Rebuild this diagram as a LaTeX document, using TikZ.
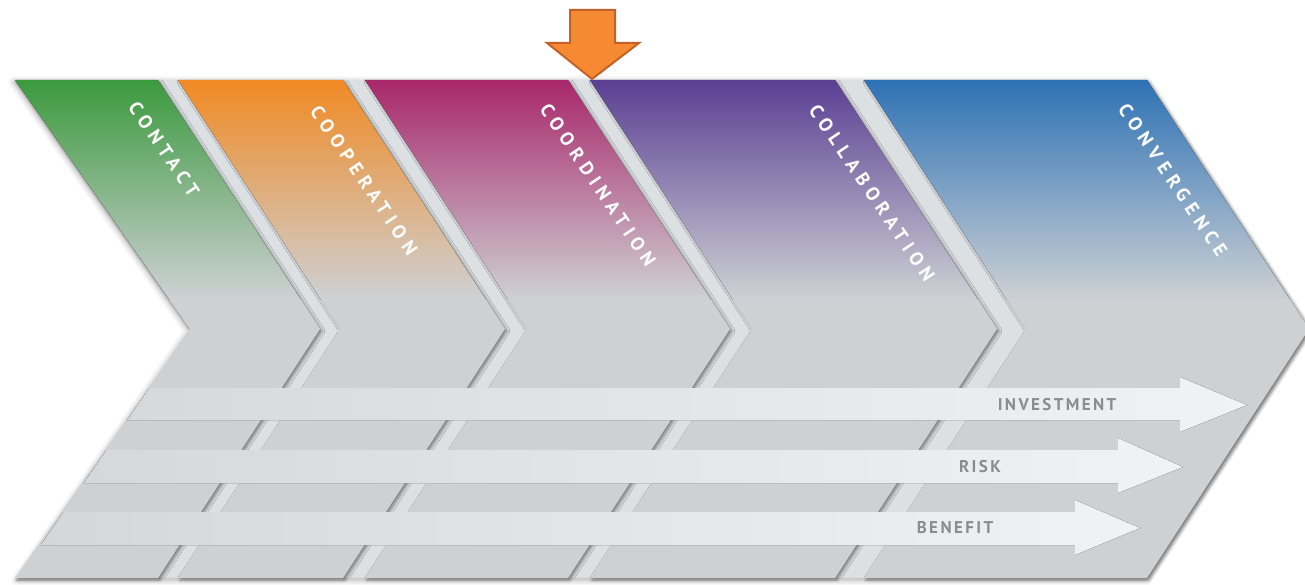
\documentclass[tikz,border=0pt]{standalone}
\usepackage{fontspec}
\setmainfont{PT Sans}
\newfontfamily\chevfont[LetterSpace=30]{PT Sans}
\newfontfamily\bandfont[LetterSpace=14]{PT Sans}
\usetikzlibrary{shadows.blur}
\definecolor{cgreen}{HTML}{3C9A3E}
\definecolor{corange}{HTML}{F08A24}
\definecolor{cmagenta}{HTML}{A8276B}
\definecolor{cpurple}{HTML}{5B3F93}
\definecolor{cblue}{HTML}{2E72B5}
\definecolor{bodygray}{HTML}{CED1D4}
\definecolor{gapgray}{HTML}{DCE0E2}
\definecolor{bandL}{HTML}{D3D6D9}
\definecolor{bandR}{HTML}{F1F2F3}
\definecolor{labelgray}{HTML}{8A8D90}
\definecolor{arrfill}{HTML}{F68A33}
\definecolor{arrline}{HTML}{C4612A}
\newcommand\drawchev[4]{%
  \fill[chev] (#1,80) -- (#2,80) -- ({#2+162},329) -- (#2,578) -- (#1,578) -- ({#1+#3},329) -- cycle;
  \begin{scope}
    \clip (#1,80) -- (#2,80) -- ({#2+162},329) -- (#2,578) -- (#1,578) -- ({#1+#3},329) -- cycle;
    \fill[top color=#4, bottom color=bodygray] ({#1-10},80) rectangle ({#2+170},300);
  \end{scope}}
\begin{document}
\begin{tikzpicture}[x=1pt,y=-1pt,
  chev/.style={fill=bodygray, blur shadow={shadow xshift=2pt, shadow yshift=-2pt, shadow blur radius=3pt, shadow opacity=45}},
  backing/.style={fill=gapgray, blur shadow={shadow xshift=-1pt, shadow yshift=-2pt, shadow blur radius=6pt, shadow opacity=35}},
  band/.style={left color=bandL, right color=bandR},
  clabel/.style={text=white, font=\chevfont\bfseries\fontsize{19}{21}\selectfont, rotate=-56, inner sep=0pt},
  blabel/.style={text=labelgray, font=\bandfont\bfseries\fontsize{17}{19}\selectfont, inner sep=0pt},
  bigarrow/.style={fill=arrfill, draw=arrline, line width=2pt, line join=miter}]
\useasboundingbox (0,0) rectangle (1305,585);
% backing (gaps)
\fill[backing] (15,80) -- (1147,80) -- (1309,329) -- (1147,578) -- (18,578) -- (190,329) -- cycle;
% chevrons
\drawchev{15}{158}{175}{cgreen}
\drawchev{178}{343}{162}{corange}
\drawchev{365}{568}{162}{cmagenta}
\drawchev{590}{835}{162}{cpurple}
\drawchev{864}{1147}{162}{cblue}
% bands
\begin{scope}
  \clip (15,80) -- (1147,80) -- (1309,329) -- (1147,578) -- (18,578) -- (190,329) -- cycle;
  \fill[band] (0,388) -- (1180,388) -- (1180,377) -- (1247,405) -- (1180,432) -- (1180,420) -- (0,420) -- cycle;
  \fill[band] (0,450) -- (1118,450) -- (1118,438) -- (1183,467) -- (1118,493) -- (1118,483) -- (0,483) -- cycle;
  \fill[band] (0,512) -- (1075,512) -- (1075,500) -- (1140,528) -- (1075,555) -- (1075,545) -- (0,545) -- cycle;
\end{scope}
% chevron labels
\node[clabel] (lcontact) at (164,149) {CONTACT};
\node[clabel] (lcoop) at (364,180) {COOPERATION};
\node[clabel] (lcoord) at (598,185) {COORDINATION};
\node[clabel] (lcollab) at (872,193) {COLLABORATION};
\node[clabel] (lconv) at (1173,180) {CONVERGENCE};
% band labels
\node[blabel] (linv) at (1057,405) {INVESTMENT};
\node[blabel] (lrisk) at (980,467) {RISK};
\node[blabel] (lben) at (955,528) {BENEFIT};
% orange marker arrow
\draw[bigarrow] (570,10) -- (615,10) -- (615,43) -- (639,43) -- (592,79) -- (547,43) -- (570,43) -- cycle;
\end{tikzpicture}
\end{document}
